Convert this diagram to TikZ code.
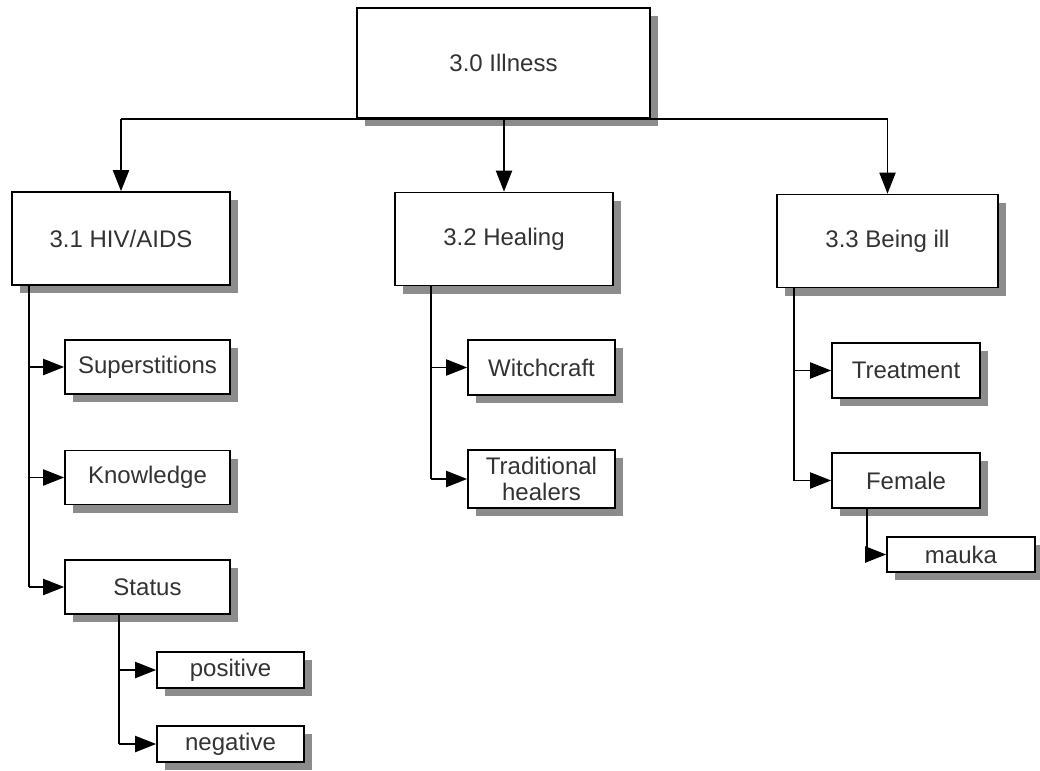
\documentclass[tikz,border=0pt]{standalone}
\usepackage{fontspec}
\setmainfont{Liberation Sans}
\usetikzlibrary{arrows.meta,shadows,calc}
\begin{document}
\begin{tikzpicture}[x=1pt,y=-1pt,
  box/.style={draw=black, line width=1.6pt, fill=white, inner sep=0pt,
    align=center, text=black!80, font=\fontsize{24}{26}\selectfont,
    drop shadow={shadow xshift=8pt, shadow yshift=-8pt, fill=black!45, opacity=1}},
  wire/.style={line width=1.9pt},
  link/.style={wire, -{Triangle[length=21pt,width=16pt]}}]
\useasboundingbox (0,0) rectangle (1040,770);

% top level
\node[box, minimum width=293, minimum height=110] (root) at (503.5,63) {3.0 Illness};

% second level
\node[box, minimum width=218, minimum height=93] (hiv)  at (121,238.5)  {3.1 HIV/AIDS};
\node[box, minimum width=218, minimum height=93] (heal) at (504,239)    {3.2 Healing};
\node[box, minimum width=221, minimum height=93] (ill)  at (887.5,241)  {3.3 Being ill};

% HIV/AIDS branch
\node[box, minimum width=165, minimum height=54] (sup)    at (147.5,367)   {Superstitions};
\node[box, minimum width=165, minimum height=54] (know)   at (147.5,477.5) {Knowledge};
\node[box, minimum width=165, minimum height=54] (status) at (147.5,587)   {Status};
\node[box, minimum width=147, minimum height=36] (pos)    at (230.5,670)   {positive};
\node[box, minimum width=147, minimum height=36] (neg)    at (230.5,744)   {negative};

% Healing branch
\node[box, minimum width=147, minimum height=55] (witch) at (541.5,367.5) {Witchcraft};
\node[box, minimum width=147, minimum height=58] (trad)  at (541.5,479)   {Traditional\\healers};

% Being ill branch
\node[box, minimum width=148, minimum height=55] (treat) at (906,370.5) {Treatment};
\node[box, minimum width=148, minimum height=55] (fem)   at (906,480.5) {Female};
\node[box, minimum width=148, minimum height=35] (mauka) at (961,554.5) {mauka};

% trunks of the sub-trees
\coordinate (thiv)  at ($(hiv.south west)+(18,0)$);
\coordinate (tstat) at ($(status.south west)+(55,0)$);
\coordinate (theal) at ($(heal.south west)+(37,0)$);
\coordinate (till)  at ($(ill.south west)+(18,0)$);
\coordinate (tfem)  at ($(fem.south west)+(36,0)$);

% top bus
\draw[wire] (hiv.north |- root.south) -- (ill.north |- root.south);
\draw[link] (hiv.north |- root.south) -- (hiv.north);
\draw[link] (heal.north |- root.south) -- (heal.north);
\draw[link] (ill.north |- root.south) -- (ill.north);

% HIV/AIDS
\draw[wire] (thiv) -- (thiv |- status.west);
\draw[link] (thiv |- sup.west) -- (sup.west);
\draw[link] (thiv |- know.west) -- (know.west);
\draw[link] (thiv |- status.west) -- (status.west);
\draw[wire] (tstat) -- (tstat |- neg.west);
\draw[link] (tstat |- pos.west) -- (pos.west);
\draw[link] (tstat |- neg.west) -- (neg.west);

% Healing
\draw[wire] (theal) -- (theal |- trad.west);
\draw[link] (theal |- witch.west) -- (witch.west);
\draw[link] (theal |- trad.west) -- (trad.west);

% Being ill
\draw[wire] (till) -- (till |- fem.west);
\draw[link] (till |- treat.west) -- (treat.west);
\draw[link] (till |- fem.west) -- (fem.west);
\draw[wire] (tfem) -- (tfem |- mauka.west);
\draw[link] (tfem |- mauka.west) -- (mauka.west);
\end{tikzpicture}
\end{document}
